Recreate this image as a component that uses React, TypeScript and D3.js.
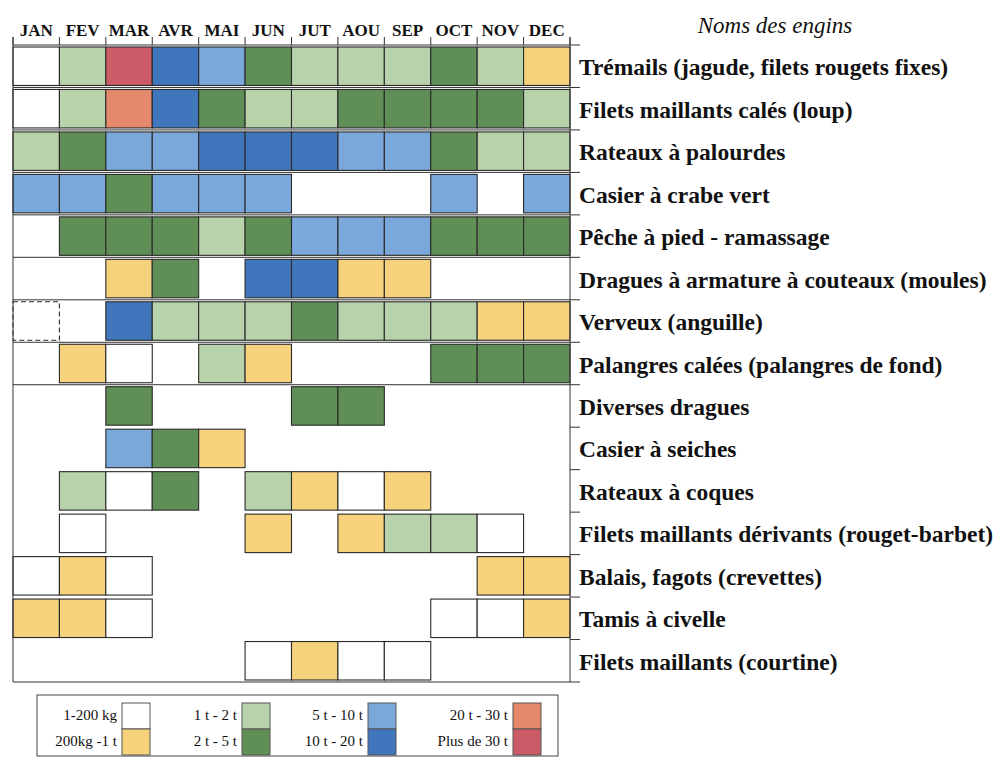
import React from "react";
import * as d3 from "d3";

const months = ["JAN", "FEV", "MAR", "AVR", "MAI", "JUN", "JUT", "AOU", "SEP", "OCT", "NOV", "DEC"];

const gears = [
  "Trémails (jagude, filets rougets fixes)",
  "Filets maillants calés (loup)",
  "Rateaux à palourdes",
  "Casier à crabe vert",
  "Pêche à pied - ramassage",
  "Dragues à armature à couteaux (moules)",
  "Verveux (anguille)",
  "Palangres calées (palangres de fond)",
  "Diverses dragues",
  "Casier à seiches",
  "Rateaux à coques",
  "Filets maillants dérivants (rouget-barbet)",
  "Balais, fagots (crevettes)",
  "Tamis à civelle",
  "Filets maillants (courtine)",
];

// catch class per month: 0 = no activity, 1..8 = legend classes
const catchLevels = [
  [1, 3, 8, 6, 5, 4, 3, 3, 3, 4, 3, 2],
  [1, 3, 7, 6, 4, 3, 3, 4, 4, 4, 4, 3],
  [3, 4, 5, 5, 6, 6, 6, 5, 5, 4, 3, 3],
  [5, 5, 4, 5, 5, 5, 0, 0, 0, 5, 0, 5],
  [0, 4, 4, 4, 3, 4, 5, 5, 5, 4, 4, 4],
  [0, 0, 2, 4, 0, 6, 6, 2, 2, 0, 0, 0],
  [1, 0, 6, 3, 3, 3, 4, 3, 3, 3, 2, 2],
  [0, 2, 1, 0, 3, 2, 0, 0, 0, 4, 4, 4],
  [0, 0, 4, 0, 0, 0, 4, 4, 0, 0, 0, 0],
  [0, 0, 5, 4, 2, 0, 0, 0, 0, 0, 0, 0],
  [0, 3, 1, 4, 0, 3, 2, 1, 2, 0, 0, 0],
  [0, 1, 0, 0, 0, 2, 0, 2, 3, 3, 1, 0],
  [1, 2, 1, 0, 0, 0, 0, 0, 0, 0, 2, 2],
  [2, 2, 1, 0, 0, 0, 0, 0, 0, 1, 1, 2],
  [0, 0, 0, 0, 0, 1, 2, 1, 1, 0, 0, 0],
];

const classLabels = [
  "1-200 kg",
  "200kg -1 t",
  "1 t - 2 t",
  "2 t - 5 t",
  "5 t - 10 t",
  "10 t - 20 t",
  "20 t - 30 t",
  "Plus de 30 t",
];

const classColors = ["#ffffff", "#f6d27c", "#b8d2ab", "#5f8e56", "#7ba8db", "#4076bb", "#e4896c", "#cc5b68"];

const dashedCells = [[6, 0]];

const W = 994;
const H = 758;
const gridLeft = 13;
const gridRight = 570;
const gridTop = 45;
const gridBottom = 682;
const tickEnd = 580;
const legendSwatchX = [122, 242, 368, 513];

export default function App() {
  const x = d3.scaleBand<string>().domain(months).range([gridLeft, gridRight]);
  const y = d3.scaleBand<string>().domain(gears).range([gridTop, gridBottom]);
  const color = d3
    .scaleOrdinal<number, string>()
    .domain(d3.range(1, 9))
    .range(classColors);

  const bw = x.bandwidth();
  const bh = y.bandwidth();
  const inset = 2;

  const serif = "'Liberation Serif', 'DejaVu Serif', serif";
  const boundaries = d3.range(gears.length + 1).map((i) => gridTop + i * bh);

  return (
    <svg
      width={W}
      height={H}
      style={{ position: "absolute", left: 0, top: 0, background: "#fff" }}
      fontFamily={serif}
    >
      <rect x={0} y={0} width={W} height={H} fill="#fff" />

      {/* header */}
      {months.map((m) => (
        <text
          key={m}
          x={(x(m) as number) + bw / 2}
          y={36}
          textAnchor="middle"
          fontWeight="bold"
          fontSize={17}
          fill="#111"
        >
          {m}
        </text>
      ))}
      {d3.range(months.length + 1).map((i) => (
        <line
          key={"ht" + i}
          x1={gridLeft + i * bw}
          x2={gridLeft + i * bw}
          y1={37}
          y2={gridTop}
          stroke="#333"
          strokeWidth={1}
        />
      ))}
      <text x={775} y={33} textAnchor="middle" fontStyle="italic" fontSize={23} fill="#111">
        Noms des engins
      </text>

      {/* cells */}
      {catchLevels.map((row, gi) =>
        row.map((lvl, mi) => {
          if (lvl === 0) return null;
          const dashed = dashedCells.some(([g, m]) => g === gi && m === mi);
          return (
            <rect
              key={gi + "-" + mi}
              x={x(months[mi]) as number}
              y={(y(gears[gi]) as number) + inset}
              width={bw}
              height={bh - inset * 2}
              fill={color(lvl)}
              stroke="#2a2a2a"
              strokeWidth={1.1}
              strokeDasharray={dashed ? "5,3" : undefined}
            />
          );
        })
      )}

      {/* frame */}
      {boundaries.map((by, i) => {
        const full = i <= 8 || i === gears.length;
        return (
          <line
            key={"rb" + i}
            x1={full ? gridLeft : gridRight}
            x2={tickEnd}
            y1={by}
            y2={by}
            stroke="#333"
            strokeWidth={1}
          />
        );
      })}
      <line x1={gridLeft} x2={gridLeft} y1={37} y2={gridBottom} stroke="#333" strokeWidth={1} />
      <line x1={gridRight} x2={gridRight} y1={37} y2={gridBottom} stroke="#333" strokeWidth={1} />

      {/* gear labels */}
      {gears.map((g) => (
        <text
          key={g}
          x={579}
          y={(y(g) as number) + bh / 2 + 9}
          fontWeight="bold"
          fontSize={23.5}
          fill="#111"
        >
          {g}
        </text>
      ))}

      {/* legend */}
      <rect x={37} y={695} width={521} height={61} fill="none" stroke="#444" strokeWidth={1} />
      {classLabels.map((lab, i) => {
        const col = Math.floor(i / 2);
        const r = i % 2;
        const sx = legendSwatchX[col];
        const sy = 703 + r * 26;
        return (
          <g key={lab}>
            <rect x={sx} y={sy} width={28} height={26} fill={color(i + 1)} stroke="#555" strokeWidth={1} />
            <text x={sx - 5} y={sy + 17} textAnchor="end" fontSize={15} fill="#111">
              {lab}
            </text>
          </g>
        );
      })}
    </svg>
  );
}
